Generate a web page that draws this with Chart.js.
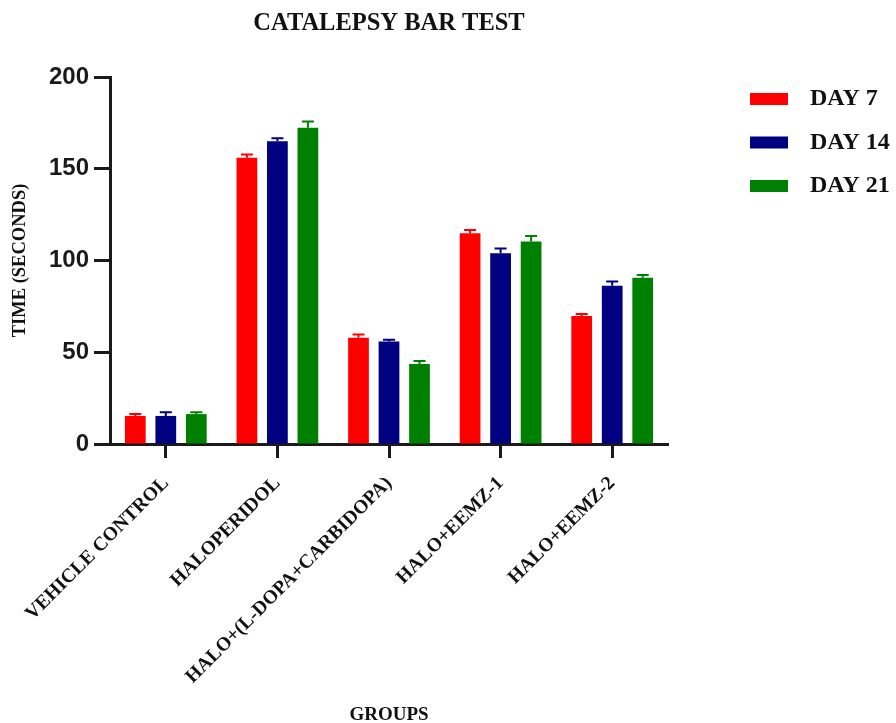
<!DOCTYPE html>
<html>
<head>
<meta charset="utf-8">
<title>Catalepsy Bar Test</title>
<script src="https://cdn.jsdelivr.net/npm/chart.js@4.4.1/dist/chart.umd.min.js"></script>
<style>
  html, body { margin: 0; padding: 0; background: #ffffff; }
  #wrap { position: relative; width: 896px; height: 723px; }
</style>
</head>
<body>
<div id="wrap"><canvas id="chart" width="896" height="723"></canvas></div>
<script>
// Groups on the x axis
const groups = [
  'VEHICLE CONTROL',
  'HALOPERIDOL',
  'HALO+(L-DOPA+CARBIDOPA)',
  'HALO+EEMZ-1',
  'HALO+EEMZ-2'
];

// Mean catalepsy time (seconds) per group and day
const day7  = [15.3, 156.0, 57.9, 114.8, 69.8];
const day14 = [15.3, 165.0, 55.8, 103.9, 86.3];
const day21 = [16.3, 172.4, 43.6, 110.3, 90.6];

// Error (SEM) shown above each bar
const day7Err  = [1.0, 1.8, 1.8, 1.8, 1.0];
const day14Err = [2.0, 1.6, 1.0, 2.7, 2.3];
const day21Err = [1.0, 3.3, 1.6, 3.1, 1.5];

const seriesNames = ['DAY 7', 'DAY 14', 'DAY 21'];
const seriesColors = ['#ff0000', '#000080', '#008000'];

const yTicks = [0, 50, 100, 150, 200];

const serif = '"Liberation Serif", "Times New Roman", serif';
const sans = '"Liberation Sans", Arial, sans-serif';

// Draws the upward error bar with a cap on each bar, in the bar's colour
const errorBars = {
  id: 'errorBars',
  afterDatasetsDraw(chart) {
    const ctx = chart.ctx;
    const y = chart.scales.y;
    chart.data.datasets.forEach((ds, i) => {
      const meta = chart.getDatasetMeta(i);
      meta.data.forEach((bar, j) => {
        const top = y.getPixelForValue(ds.data[j] + ds.errors[j]);
        const base = y.getPixelForValue(ds.data[j]);
        ctx.save();
        ctx.strokeStyle = ds.backgroundColor;
        ctx.lineWidth = 2;
        ctx.beginPath();
        ctx.moveTo(bar.x, base);
        ctx.lineTo(bar.x, top);
        ctx.moveTo(bar.x - 6, top);
        ctx.lineTo(bar.x + 6, top);
        ctx.stroke();
        ctx.restore();
      });
    });
  }
};

// Legend to the right of the plot
const sideLegend = {
  id: 'sideLegend',
  afterDraw(chart) {
    const ctx = chart.ctx;
    ctx.save();
    chart.data.datasets.forEach((ds, i) => {
      const cy = 99 + i * 43.5;
      ctx.fillStyle = ds.backgroundColor;
      ctx.fillRect(750, cy - 6, 38, 12);
      ctx.fillStyle = '#111111';
      ctx.font = 'bold 24px ' + serif;
      ctx.textAlign = 'left';
      ctx.textBaseline = 'middle';
      ctx.fillText(ds.label, 810, cy);
    });
    ctx.restore();
  }
};

const values = [day7, day14, day21];
const errs = [day7Err, day14Err, day21Err];

new Chart(document.getElementById('chart'), {
  type: 'bar',
  data: {
    labels: groups,
    datasets: seriesNames.map((name, i) => ({
      label: name,
      data: values[i],
      errors: errs[i],
      backgroundColor: seriesColors[i],
      borderWidth: 0,
      categoryPercentage: 0.82,
      barPercentage: 0.68
    }))
  },
  options: {
    responsive: false,
    animation: false,
    layout: { padding: { left: 0, right: 228, top: 0, bottom: 0 } },
    plugins: {
      legend: { display: false },
      tooltip: { enabled: false },
      title: {
        display: true,
        text: 'CATALEPSY BAR TEST',
        fullSize: false,
        color: '#111111',
        font: { family: serif, size: 24.5, weight: 'bold' },
        padding: { top: 9, bottom: 38.6 }
      }
    },
    scales: {
      x: {
        afterFit(scale) { scale.height = 279; },
        grid: {
          display: true,
          drawOnChartArea: false,
          drawTicks: true,
          offset: false,
          tickLength: 14,
          tickWidth: 3,
          tickColor: '#1a1a1a'
        },
        border: { display: true, color: '#1a1a1a', width: 3 },
        ticks: {
          color: '#111111',
          font: { family: serif, size: 19.5, weight: 'bold' },
          minRotation: 45,
          maxRotation: 45,
          padding: 14,
          autoSkip: false
        },
        title: {
          display: true,
          text: 'GROUPS',
          color: '#111111',
          font: { family: serif, size: 19, weight: 'bold' },
          padding: { top: 0, bottom: -3 }
        }
      },
      y: {
        min: 0,
        max: 200,
        afterFit(scale) { scale.width = 110; },
        afterBuildTicks(scale) { scale.ticks = yTicks.map(v => ({ value: v })); },
        grid: {
          display: true,
          drawOnChartArea: false,
          drawTicks: true,
          tickLength: 16,
          tickWidth: 3,
          tickColor: '#1a1a1a'
        },
        border: { display: true, color: '#1a1a1a', width: 3 },
        ticks: {
          color: '#1a1a1a',
          font: { family: sans, size: 24, weight: 'bold' },
          padding: 5
        },
        title: {
          display: true,
          text: 'TIME (SECONDS)',
          color: '#111111',
          font: { family: serif, size: 18.5, weight: 'bold' },
          padding: { top: 9, bottom: 0 }
        }
      }
    }
  },
  plugins: [errorBars, sideLegend]
});
</script>
</body>
</html>
